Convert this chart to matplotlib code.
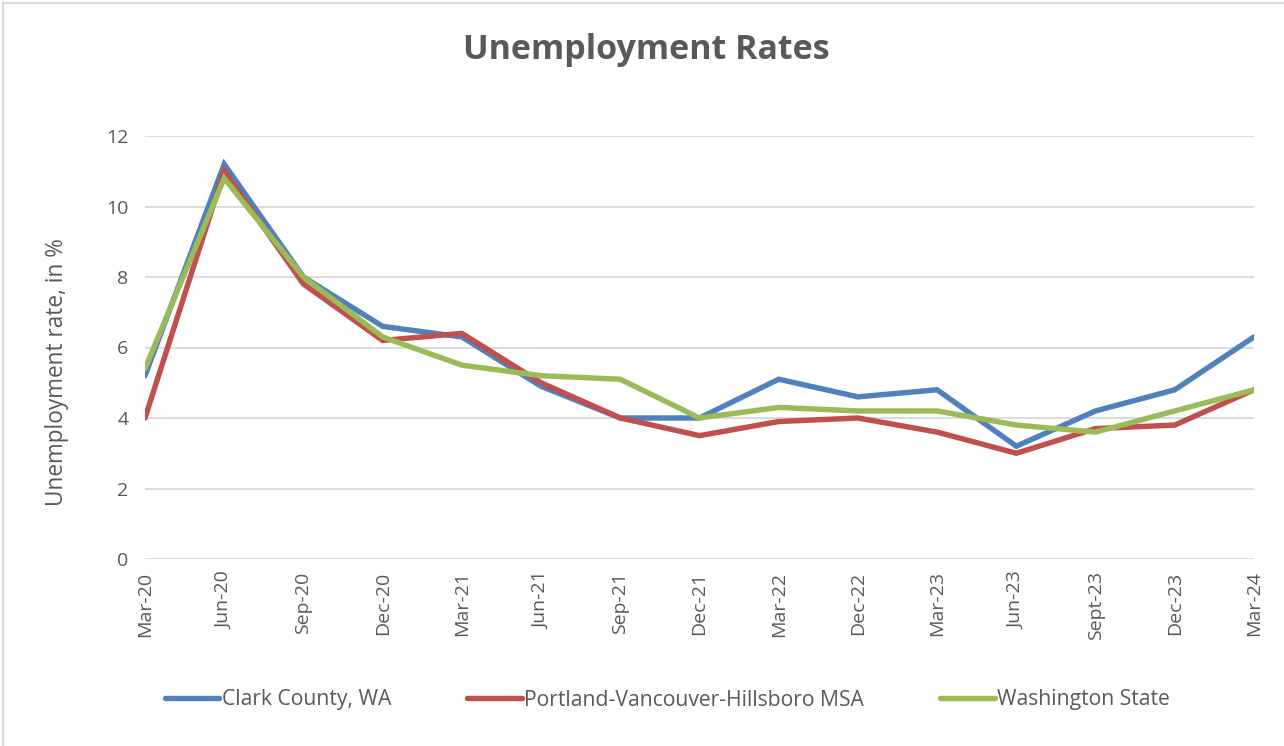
import matplotlib
matplotlib.use("Agg")
import matplotlib.pyplot as plt
from matplotlib.patches import Rectangle

categories = ["Mar-20", "Jun-20", "Sep-20", "Dec-20", "Mar-21", "Jun-21", "Sep-21",
              "Dec-21", "Mar-22", "Dec-22", "Mar-23", "Jun-23", "Sept-23", "Dec-23", "Mar-24"]
clark = [5.2, 11.2, 8.0, 6.6, 6.3, 4.9, 4.0, 4.0, 5.1, 4.6, 4.8, 3.2, 4.2, 4.8, 6.3]
portland = [4.0, 11.0, 7.8, 6.2, 6.4, 5.0, 4.0, 3.5, 3.9, 4.0, 3.6, 3.0, 3.7, 3.8, 4.8]
washington = [5.4, 10.8, 8.0, 6.3, 5.5, 5.2, 5.1, 4.0, 4.3, 4.2, 4.2, 3.8, 3.6, 4.2, 4.8]
series_names = ["Clark County, WA", "Portland-Vancouver-Hillsboro MSA", "Washington State"]
y_ticks = [0, 2, 4, 6, 8, 10, 12]

plt.rcParams['font.family'] = ['Open Sans', 'DejaVu Sans']
txt = "#595959"

fig = plt.figure(figsize=(12.84, 7.46), dpi=100)
fig.patches.append(Rectangle((3/1284, -0.01), 1.02, 1 - 3/746 + 0.01, transform=fig.transFigure,
                             fill=False, edgecolor="#D9D9D9", linewidth=1.5))
ax = fig.add_axes([145/1284, 1 - 559/746, (1254 - 145)/1284, (559 - 136)/746])

x = list(range(len(categories)))
colors = ["#4F81BD", "#C0504D", "#9BBB59"]
for vals, name, c in zip([clark, portland, washington], series_names, colors):
    ax.plot(x, vals, color=c, linewidth=3.9, label=name, solid_capstyle="round",
            solid_joinstyle="miter")

ax.set_xlim(0, len(categories) - 1)
ax.set_ylim(0, 12)
ax.set_yticks(y_ticks)
ax.set_xticks(x)
ax.set_xticklabels(categories, rotation=90)
ax.tick_params(axis="both", length=0, labelsize=14, colors=txt)
ax.tick_params(axis="x", pad=9)
ax.tick_params(axis="y", pad=12)
ax.grid(axis="y", color="#D9D9D9", linewidth=1.3)
ax.set_axisbelow(True)
for s in ax.spines.values():
    s.set_visible(False)

ax.set_ylabel("Unemployment rate, in %", fontsize=16.3, color=txt, va="center")
ax.yaxis.set_label_coords((57 - 145) / 1109, (559 - 372) / 423)
fig.text(646/1284, 1 - 50/746, "Unemployment Rates", ha="center", va="center",
         fontsize=24.5, fontweight="bold", color=txt)

leg = fig.legend(loc="center", bbox_to_anchor=(667/1284, 1 - 700/746), ncol=3, frameon=False,
                 fontsize=15.2, handlelength=2.6, columnspacing=3.6, handletextpad=0.1)
for t in leg.get_texts():
    t.set_color(txt)

fig.savefig("out.png", dpi=100)
